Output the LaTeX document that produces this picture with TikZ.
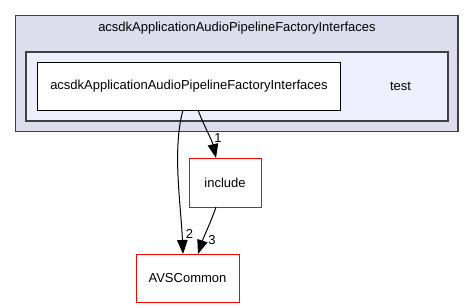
\documentclass[tikz,border=0pt]{standalone}
\usepackage{fontspec}
\setmainfont{Liberation Sans}
\usetikzlibrary{arrows.meta}

\definecolor{clusterfill}{HTML}{DDDDEE}
\definecolor{innerfill}{HTML}{EEEEFF}
\definecolor{framegray}{HTML}{404040}

\begin{document}
\begin{tikzpicture}[x=1pt, y=-1pt]
        % Box and edge style definitions
        \tikzset{
            cluster/.style={draw=framegray, line width=1.5pt, fill=clusterfill},
            subcluster/.style={draw=framegray, line width=1.5pt, fill=innerfill},
            dirnode/.style={draw=black, line width=1pt, fill=white, inner sep=0pt,
                font=\fontsize{13}{15}\selectfont},
            refnode/.style={draw=red, line width=1pt, fill=white, inner sep=0pt,
                font=\fontsize{13}{15}\selectfont},
            depline/.style={draw=black, line width=1pt, -{Triangle[length=14pt, width=10.5pt]}},
            deplabel/.style={inner sep=1pt, font=\fontsize{13}{15}\selectfont}
        }
        \useasboundingbox (0,0) rectangle (475,308);

        % ==========================================
        % CLUSTERS
        % ==========================================
        \draw[cluster] (15.5,15.5) rectangle (458,131.5);
        \node[font=\fontsize{13}{15}\selectfont] (title) at (237,28)
            {acsdkApplicationAudioPipelineFactoryInterfaces};
        \draw[subcluster] (26,52) rectangle (448,121);

        % ==========================================
        % DIRECTORIES
        % ==========================================
        \node[dirnode, minimum width=303pt, minimum height=48pt] (iface) at (189,86)
            {acsdkApplicationAudioPipelineFactoryInterfaces};
        \node[font=\fontsize{13}{15}\selectfont] (testdir) at (400.5,86) {test};
        \node[refnode, minimum width=72pt, minimum height=49pt] (include) at (225,182.5) {include};
        \node[refnode, minimum width=103pt, minimum height=48pt] (avs) at (187.5,278) {AVSCommon};

        % ==========================================
        % DEPENDENCIES
        % ==========================================
        \coordinate (s2) at (183,110);
        \coordinate (e2) at (183,254);
        \coordinate (s1) at (198,110);
        \coordinate (e1) at (216,158);
        \coordinate (s3) at (216,207);
        \coordinate (e3) at (198,254);

        \draw[depline] (s2) .. controls (172,150) and (181,205) .. (e2);
        \draw[depline] (s1) .. controls (204,126) and (212,140) .. (e1);
        \draw[depline] (s3) .. controls (211,222) and (204,236) .. (e3);

        \node[deplabel] (n2) at (189.5,234) {2};
        \node[deplabel] (n1) at (218,138) {1};
        \node[deplabel] (n3) at (212,240) {3};

    \end{tikzpicture}
\end{document}
